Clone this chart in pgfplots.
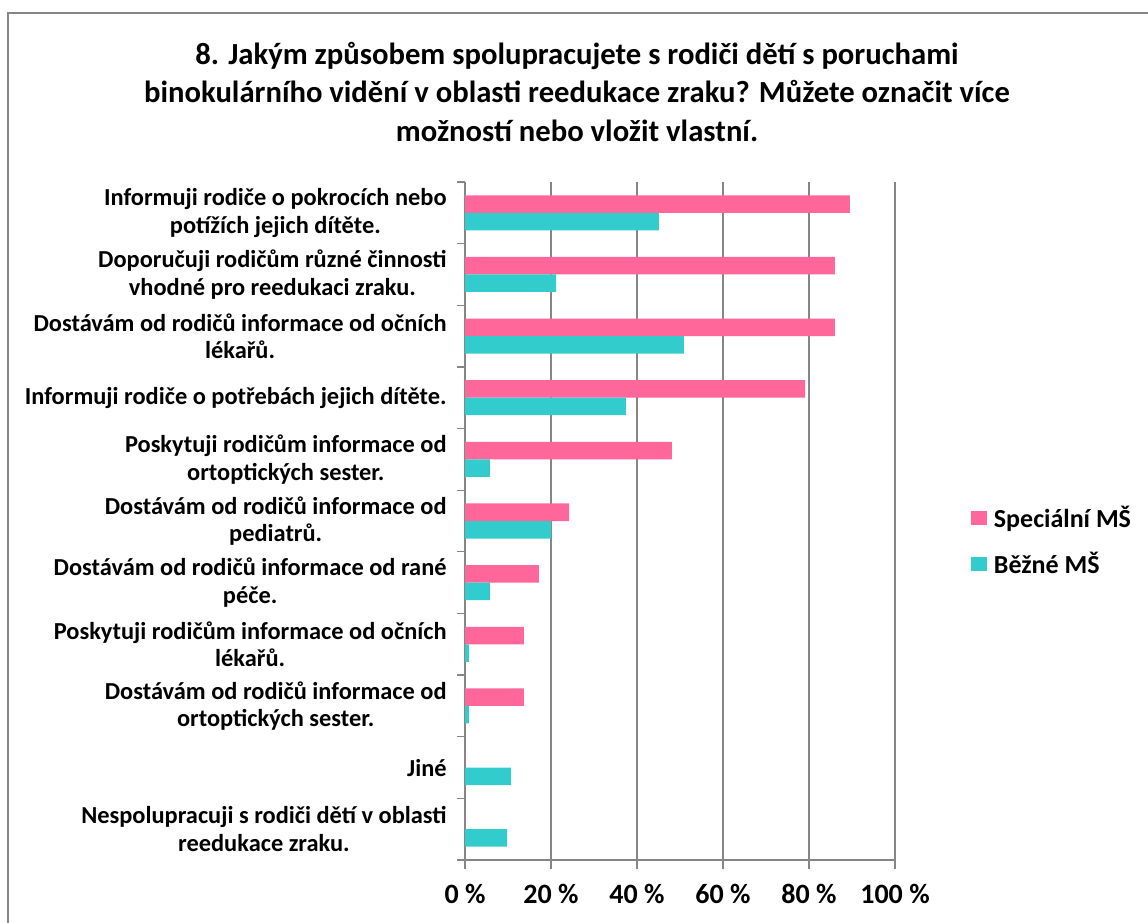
\documentclass[border=0pt]{standalone}
\usepackage{pgfplots}
\pgfplotsset{compat=1.18}
\usepackage{fontspec}
\setmainfont{Carlito}
\definecolor{pinkb}{RGB}{255,102,153}
\definecolor{tealb}{RGB}{51,204,204}
\definecolor{gridg}{RGB}{134,134,134}
\begin{document}
\begin{tikzpicture}[x=0.75pt,y=0.75pt]
\useasboundingbox (0,0) rectangle (1148,922);
\draw[gridg, line width=1pt] (8,-30) -- (8,909) -- (1180,909);
\node[align=center, font=\bfseries\fontsize{23}{29}\selectfont] at (577,830)
 {8. Jakým způsobem spolupracujete s rodiči dětí s poruchami\\binokulárního vidění v oblasti reedukace zraku? Můžete označit více\\možností nebo vložit vlastní.};
\begin{axis}[
 at={(348.75pt,46.5pt)}, anchor=south west,
 scale only axis, width=322.5pt, height=508.5pt,
 xmin=0, xmax=100, ymin=-0.5, ymax=10.5,
 xbar, bar width=0.284,
 axis lines*=left,
 axis line style={gridg, line width=1pt},
 xtick={0,20,...,100},
 xticklabels={0 \%,20 \%,40 \%,60 \%,80 \%,100 \%},
 xmajorgrids, grid style={gridg, line width=1pt},
 tick align=outside,
 major tick length=6.75pt, minor tick length=6pt,
 major x tick style={gridg, line width=1pt},
 major y tick style={draw=none},
 minor y tick style={gridg, line width=1pt},
 ytick={0,...,10},
 minor ytick={-0.5,0.5,...,10.5},
 yticklabels={
 {Nespolupracuji s rodiči dětí v oblasti\\reedukace zraku.},
 {Jiné},
 {Dostávám od rodičů informace od\\ortoptických sester.},
 {Poskytuji rodičům informace od očních\\lékařů.},
 {Dostávám od rodičů informace od rané\\péče.},
 {Dostávám od rodičů informace od\\pediatrů.},
 {Poskytuji rodičům informace od\\ortoptických sester.},
 {Informuji rodiče o potřebách jejich dítěte.},
 {Dostávám od rodičů informace od očních\\lékařů.},
 {Doporučuji rodičům různé činnosti\\vhodné pro reedukaci zraku.},
 {Informuji rodiče o pokrocích nebo\\potížích jejich dítěte.}},
 yticklabel style={font=\bfseries\fontsize{18.3}{20.7}\selectfont, align=center, xshift=-3.5pt},
 xticklabel style={font=\bfseries\fontsize{21}{23}\selectfont, yshift=-7.5pt},
 legend style={at={(axis description cs:1.1674,0.4705)}, anchor=west, draw=none, fill=none,
   font=\bfseries\fontsize{19.5}{22}\selectfont, row sep=13pt, cells={anchor=west}},
 legend image code/.code={\path[#1,draw=none] (0pt,-5.6pt) rectangle (12pt,5.6pt); \path (15pt,0pt);},
 legend cell align=left,
]
\addplot[fill=pinkb, draw=none, bar shift=0.142] coordinates {
 (0,0) (0,1) (13.7,2) (13.7,3) (17.2,4) (24.2,5) (48.1,6) (79.1,7) (86.0,8) (86.0,9) (89.5,10)};
\addplot[fill=tealb, draw=none, bar shift=-0.142] coordinates {
 (9.8,0) (10.7,1) (0.9,2) (0.9,3) (5.8,4) (20.0,5) (5.8,6) (37.4,7) (50.9,8) (21.2,9) (45.1,10)};
\legend{Speciální MŠ, Běžné MŠ}
\end{axis}
\end{tikzpicture}
\end{document}
